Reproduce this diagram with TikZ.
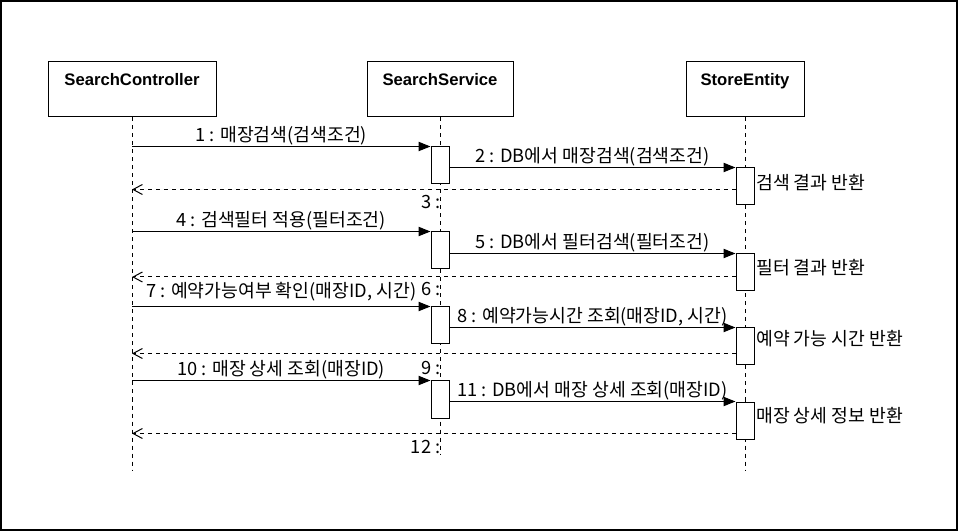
\documentclass[tikz,border=0pt]{standalone}
\usepackage{fontspec}
\setmainfont{Noto Sans CJK KR}
\newfontfamily\headfont{Liberation Sans}
\usetikzlibrary{arrows.meta,positioning}
\begin{document}
\begin{tikzpicture}[x=0.75pt,y=-0.75pt,font=\fontsize{13.7}{16}\selectfont,
  head/.style={draw,line width=0.75pt,anchor=base,inner xsep=0pt,inner ysep=0pt,text height=18pt,text depth=23.25pt,
    font=\headfont\bfseries\fontsize{12.5}{15}\selectfont},
  life/.style={line width=0.75pt,dash pattern=on 3pt off 3pt},
  act/.style={draw,fill=white,line width=0.75pt,minimum width=13.5pt,minimum height=27.75pt,inner sep=0pt},
  msg/.style={line width=0.75pt,-{Triangle[length=9pt,width=7pt]}},
  ret/.style={line width=0.75pt,dash pattern=on 3pt off 3pt,-{Straight Barb[length=7pt,width=7.5pt]}},
  mlab/.style={above,inner sep=1pt},
  rlab/.style={anchor=east,inner sep=1pt},
  slab/.style={anchor=west,inner sep=1.5pt}]
\useasboundingbox (0,0) rectangle (958,531);
\draw[line width=1.5pt] (1,1) rectangle (957,530);
\node[head,minimum width=126pt] (sc) at (132,86) {SearchController};
\node[head,minimum width=109.5pt] (ss) at (440,86) {SearchService};
\node[head,minimum width=88.5pt] (se) at (745,86) {StoreEntity};
\coordinate (scend) at (132,470);
\coordinate (ssend) at (440,455);
\coordinate (seend) at (745,470);
\foreach \a/\b in {sc/scend,ss/ssend,se/seend}{
  \draw[life] (\a.south) -- (\b);}
\node[act] (a1) at (440,165.5) {};
\node[act] (b1) at (745,186.5) {};
\draw[msg] (sc.south |- a1.north) -- node[mlab] {1 : 매장검색(검색조건)} (a1.north west);
\draw[msg] (a1.east |- b1.north) -- node[mlab] {2 : DB에서 매장검색(검색조건)} (b1.north west);
\node[slab] (t1) at (754,183) {검색 결과 반환};
\coordinate (r1) at (745,189.5);
\draw[ret] (b1.west |- r1) -- (sc.south |- r1);
\node[rlab] (n3) at (442,202) {3 :};
\node[act] (a2) at (440,250.5) {};
\node[act] (b2) at (745,272.5) {};
\draw[msg] (sc.south |- a2.north) -- node[mlab] {4 : 검색필터 적용(필터조건)} (a2.north west);
\draw[msg] (a2.east |- b2.north) -- node[mlab] {5 : DB에서 필터검색(필터조건)} (b2.north west);
\node[slab] (t2) at (754,268) {필터 결과 반환};
\coordinate (r2) at (745,277);
\draw[ret] (b2.west |- r2) -- (sc.south |- r2);
\node[rlab] (n6) at (442,289) {6 :};
\node[act] (a3) at (440,325.5) {};
\node[act] (b3) at (745,346.5) {};
\draw[msg] (sc.south |- a3.north) -- node[mlab,yshift=3pt] {7 : 예약가능여부 확인(매장ID, 시간)} (a3.north west);
\draw[msg] (a3.east |- b3.north) -- node[mlab] {8 : 예약가능시간 조회(매장ID, 시간)} (b3.north west);
\node[slab] (t3) at (754,339) {예약 가능 시간 반환};
\coordinate (r3) at (745,353.5);
\draw[ret] (b3.west |- r3) -- (sc.south |- r3);
\node[rlab] (n9) at (442,368) {9 :};
\node[act] (a4) at (440,399.5) {};
\node[act] (b4) at (745,420.5) {};
\draw[msg] (sc.south |- a4.north) -- node[mlab] {10 : 매장 상세 조회(매장ID)} (a4.north west);
\draw[msg] (a4.east |- b4.north) -- node[mlab] {11 : DB에서 매장 상세 조회(매장ID)} (b4.north west);
\node[slab] (t4) at (754,416) {매장 상세 정보 반환};
\coordinate (r4) at (745,433.5);
\draw[ret] (b4.west |- r4) -- (sc.south |- r4);
\node[rlab] (n12) at (442,447) {12 :};
\end{tikzpicture}
\end{document}
